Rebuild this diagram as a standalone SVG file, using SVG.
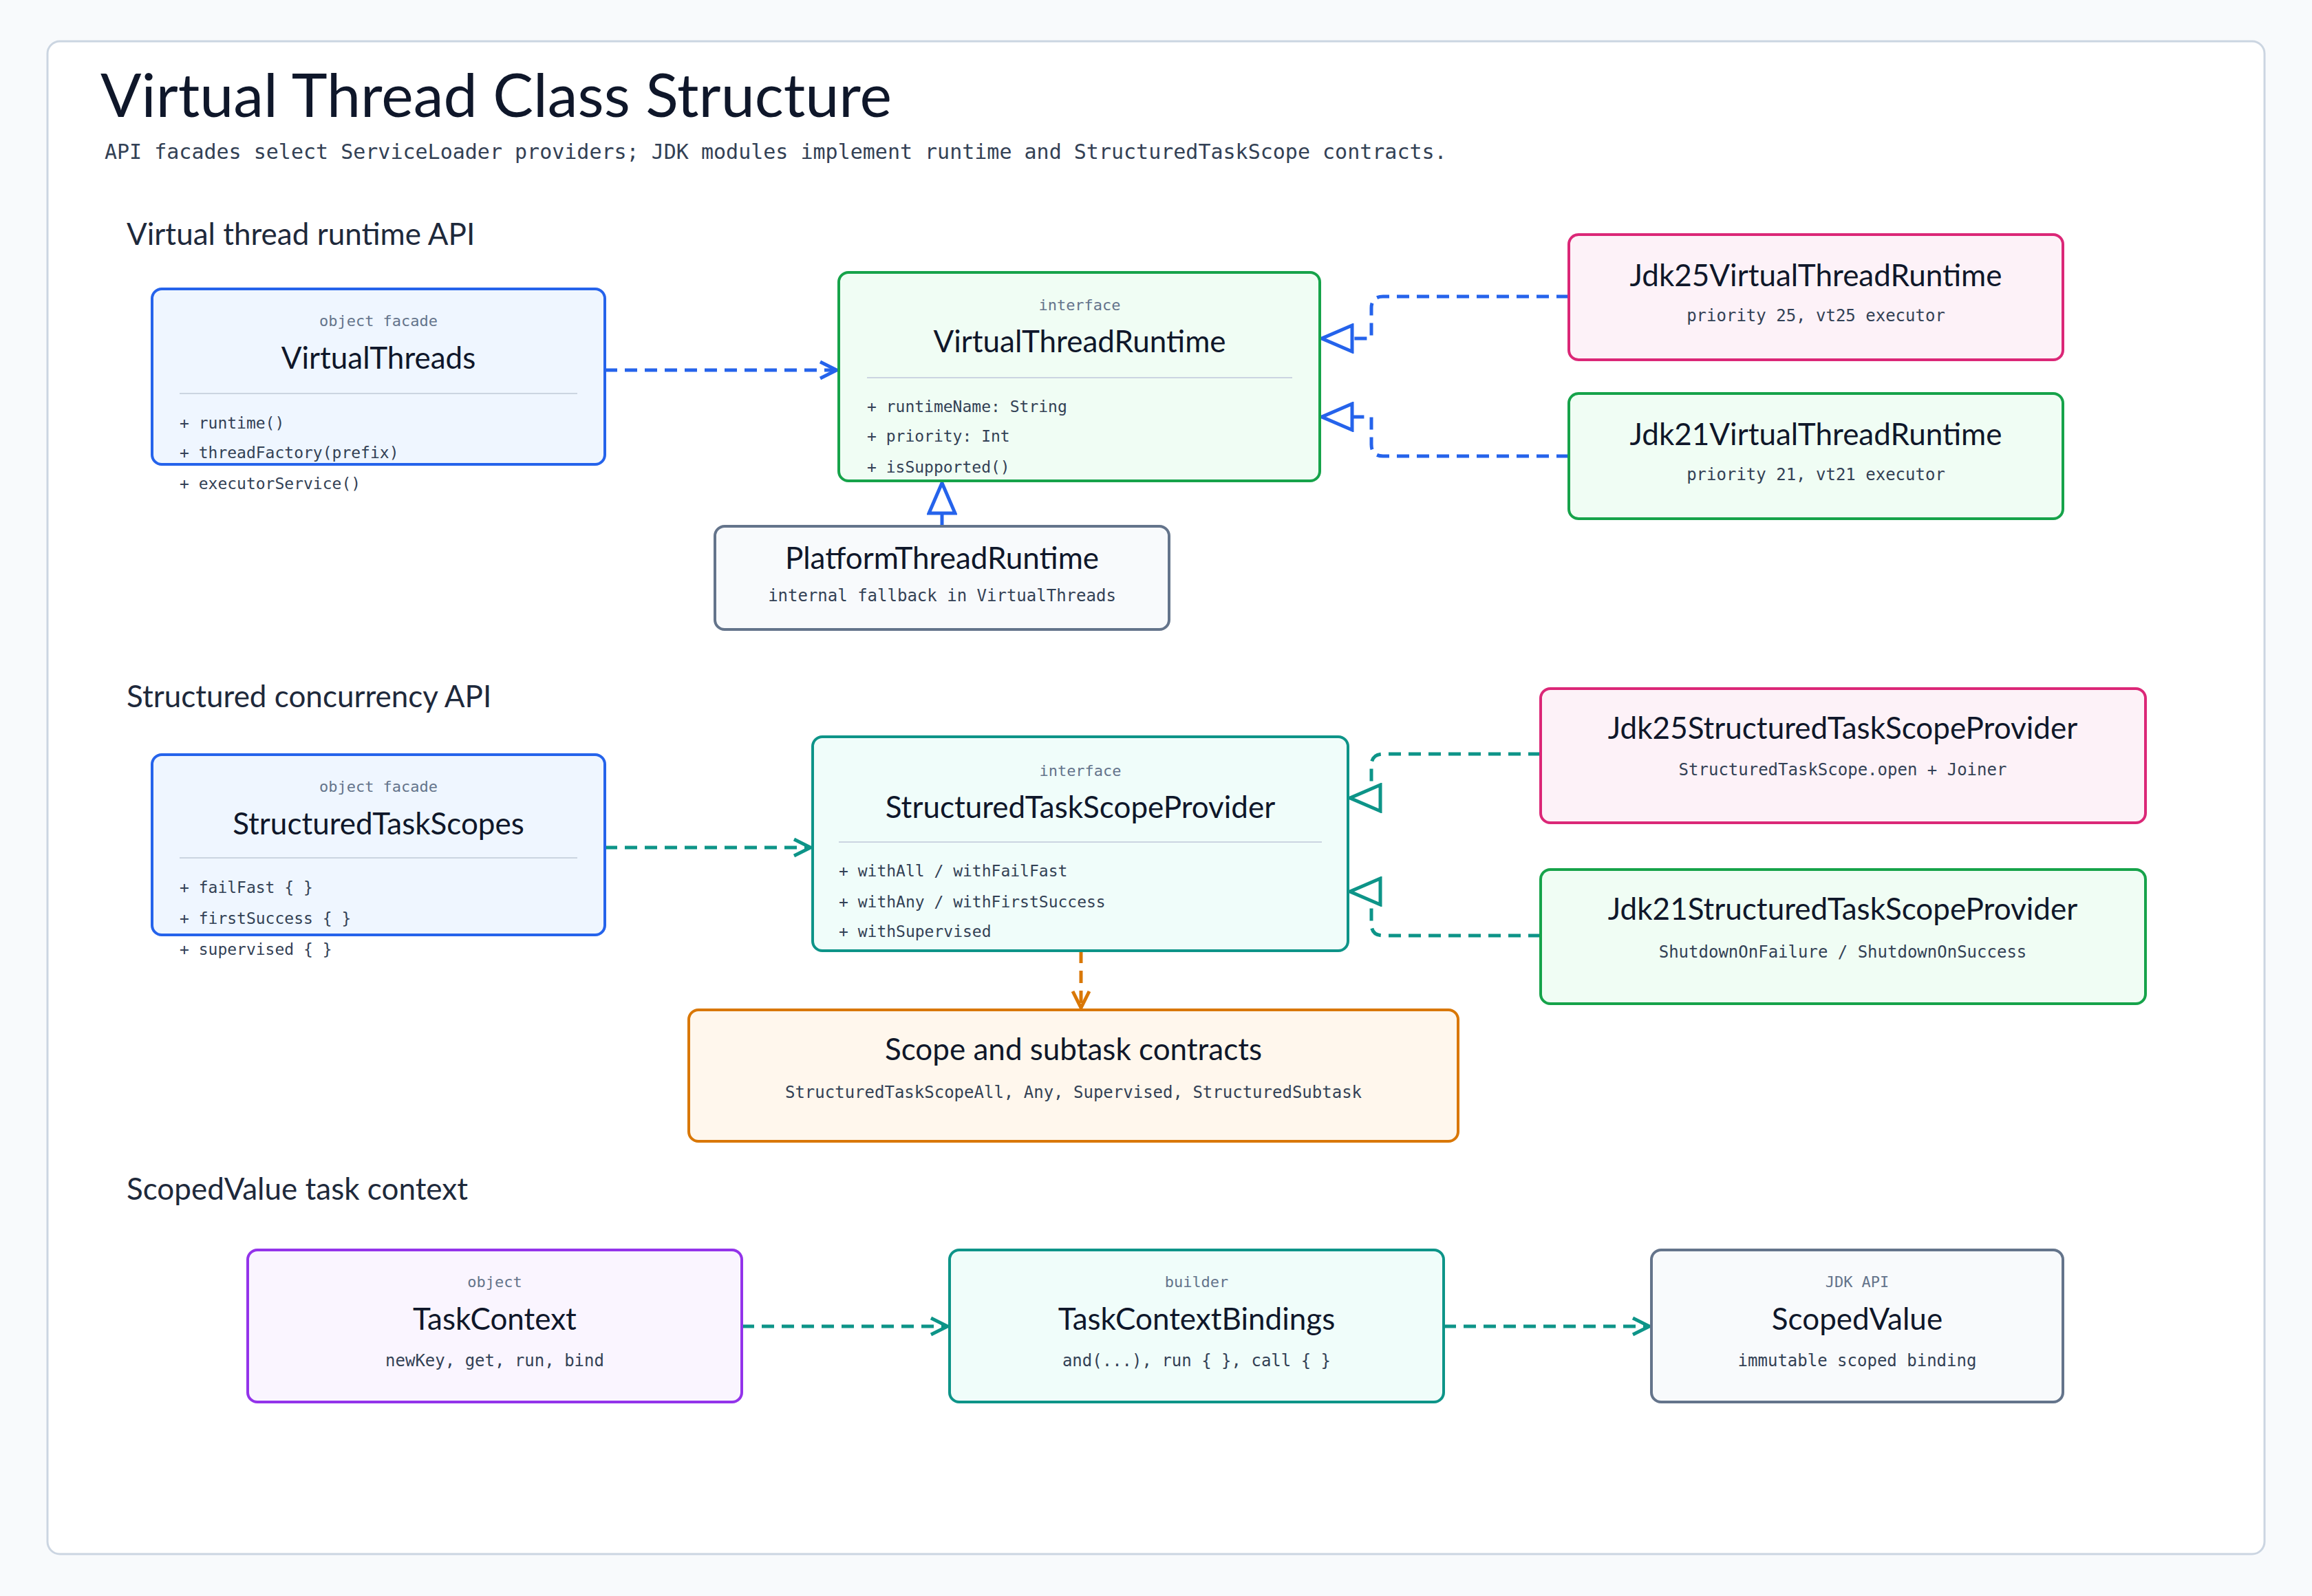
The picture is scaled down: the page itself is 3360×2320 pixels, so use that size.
<svg xmlns="http://www.w3.org/2000/svg" width="3360" height="2320" viewBox="0 0 3360 2320">
<defs>
<style>
.h{font-family:"Lato","Open Sans",sans-serif;fill:#0f172a}
.m{font-family:"DejaVu Sans Mono","Liberation Mono",monospace;fill:#334155}
.st{font-family:"DejaVu Sans Mono","Liberation Mono",monospace;fill:#64748b;font-size:22px}
.nm{font-size:44px;text-anchor:middle}
.sub{font-size:24px;text-anchor:middle}
.mt{font-size:23px}
.sec{font-size:44px;fill:#1e293b}
.div{stroke:#cbd5e1;stroke-width:2}
.c{fill:none;stroke-width:5;stroke-dasharray:18 11}
</style>
<marker id="ob" viewBox="0 0 30 30" refX="27" refY="15" markerWidth="30" markerHeight="30" markerUnits="userSpaceOnUse" orient="auto"><path d="M3,3 L27,15 L3,27" fill="none" stroke="#2563eb" stroke-width="5"/></marker>
<marker id="ot" viewBox="0 0 30 30" refX="27" refY="15" markerWidth="30" markerHeight="30" markerUnits="userSpaceOnUse" orient="auto"><path d="M3,3 L27,15 L3,27" fill="none" stroke="#0d9488" stroke-width="5"/></marker>
<marker id="oo" viewBox="0 0 30 30" refX="27" refY="15" markerWidth="30" markerHeight="30" markerUnits="userSpaceOnUse" orient="auto"><path d="M3,3 L27,15 L3,27" fill="none" stroke="#d97706" stroke-width="5"/></marker>
<marker id="tb" viewBox="0 0 50 44" refX="47" refY="22" markerWidth="50" markerHeight="44" markerUnits="userSpaceOnUse" orient="auto"><path d="M3,3 L47,22 L3,41 Z" fill="#ffffff" stroke="#2563eb" stroke-width="5"/></marker>
<marker id="tt" viewBox="0 0 50 44" refX="47" refY="22" markerWidth="50" markerHeight="44" markerUnits="userSpaceOnUse" orient="auto"><path d="M3,3 L47,22 L3,41 Z" fill="#ffffff" stroke="#0d9488" stroke-width="5"/></marker>
</defs>
<rect width="3360" height="2320" fill="#f8fafc"/>
<rect x="69" y="60" width="3222" height="2199" rx="18" fill="#ffffff" stroke="#cbd5e1" stroke-width="3"/>
<text class="h" x="146" y="170" font-size="88">Virtual Thread Class Structure</text>
<text class="m" x="152" y="231" font-size="30">API facades select ServiceLoader providers; JDK modules implement runtime and StructuredTaskScope contracts.</text>
<text class="h sec" x="184" y="356">Virtual thread runtime API</text>
<text class="h sec" x="184" y="1028">Structured concurrency API</text>
<text class="h sec" x="184" y="1744">ScopedValue task context</text>

<g id="connectors">
<path class="c" stroke="#2563eb" d="M879,538 H1216" marker-end="url(#ob)"/>
<path class="c" stroke="#2563eb" d="M2280,431 H2010 Q1993,431 1993,448 V492 H1921" marker-end="url(#tb)"/>
<path class="c" stroke="#2563eb" d="M2280,663 H2010 Q1993,663 1993,646 V606 H1921" marker-end="url(#tb)"/>
<path fill="none" stroke="#2563eb" stroke-width="5" d="M1369,765 V702" marker-end="url(#tb)"/>
<path class="c" stroke="#0d9488" d="M879,1232 H1178" marker-end="url(#ot)"/>
<path class="c" stroke="#0d9488" d="M2239,1096 H2010 Q1993,1096 1993,1113 V1160 H1962" marker-end="url(#tt)"/>
<path class="c" stroke="#0d9488" d="M2239,1360 H2010 Q1993,1360 1993,1343 V1296 H1962" marker-end="url(#tt)"/>
<path class="c" stroke="#d97706" d="M1571,1382 V1465" marker-end="url(#oo)"/>
<path class="c" stroke="#0d9488" d="M1078,1928 H1377" marker-end="url(#ot)"/>
<path class="c" stroke="#0d9488" d="M2098,1928 H2397" marker-end="url(#ot)"/>
</g>

<g id="VirtualThreads">
<rect x="221" y="420" width="658" height="255" rx="14" fill="#eff6ff" stroke="#2563eb" stroke-width="4"/>
<text class="st" x="550" y="474" text-anchor="middle">object facade</text>
<text class="h nm" x="550" y="536">VirtualThreads</text>
<line class="div" x1="261" y1="572" x2="839" y2="572"/>
<text class="m mt" x="261" y="623">+ runtime()</text>
<text class="m mt" x="261" y="666">+ threadFactory(prefix)</text>
<text class="m mt" x="261" y="711">+ executorService()</text>
</g>
<g id="VirtualThreadRuntime">
<rect x="1219" y="396" width="699" height="303" rx="14" fill="#f0fdf4" stroke="#16a34a" stroke-width="4"/>
<text class="st" x="1569" y="451" text-anchor="middle">interface</text>
<text class="h nm" x="1569" y="512">VirtualThreadRuntime</text>
<line class="div" x1="1260" y1="549" x2="1878" y2="549"/>
<text class="m mt" x="1260" y="599">+ runtimeName: String</text>
<text class="m mt" x="1260" y="642">+ priority: Int</text>
<text class="m mt" x="1260" y="687">+ isSupported()</text>
</g>
<g id="Jdk25VirtualThreadRuntime">
<rect x="2280" y="341" width="718" height="182" rx="14" fill="#fdf2f8" stroke="#db2777" stroke-width="4"/>
<text class="h nm" x="2639" y="416">Jdk25VirtualThreadRuntime</text>
<text class="m sub" x="2639" y="467">priority 25, vt25 executor</text>
</g>
<g id="Jdk21VirtualThreadRuntime">
<rect x="2280" y="572" width="718" height="182" rx="14" fill="#f0fdf4" stroke="#16a34a" stroke-width="4"/>
<text class="h nm" x="2639" y="647">Jdk21VirtualThreadRuntime</text>
<text class="m sub" x="2639" y="698">priority 21, vt21 executor</text>
</g>
<g id="PlatformThreadRuntime">
<rect x="1039" y="765" width="660" height="150" rx="14" fill="#f8fafc" stroke="#64748b" stroke-width="4"/>
<text class="h nm" x="1369" y="827">PlatformThreadRuntime</text>
<text class="m sub" x="1369" y="874">internal fallback in VirtualThreads</text>
</g>
<g id="StructuredTaskScopes">
<rect x="221" y="1097" width="658" height="262" rx="14" fill="#eff6ff" stroke="#2563eb" stroke-width="4"/>
<text class="st" x="550" y="1151" text-anchor="middle">object facade</text>
<text class="h nm" x="550" y="1213">StructuredTaskScopes</text>
<line class="div" x1="261" y1="1247" x2="839" y2="1247"/>
<text class="m mt" x="261" y="1298">+ failFast { }</text>
<text class="m mt" x="261" y="1343">+ firstSuccess { }</text>
<text class="m mt" x="261" y="1388">+ supervised { }</text>
</g>
<g id="StructuredTaskScopeProvider">
<rect x="1181" y="1071" width="778" height="311" rx="14" fill="#f0fdfa" stroke="#0d9488" stroke-width="4"/>
<text class="st" x="1570" y="1128" text-anchor="middle">interface</text>
<text class="h nm" x="1570" y="1189">StructuredTaskScopeProvider</text>
<line class="div" x1="1219" y1="1224" x2="1921" y2="1224"/>
<text class="m mt" x="1219" y="1274">+ withAll / withFailFast</text>
<text class="m mt" x="1219" y="1319">+ withAny / withFirstSuccess</text>
<text class="m mt" x="1219" y="1362">+ withSupervised</text>
</g>
<g id="Jdk25StructuredTaskScopeProvider">
<rect x="2239" y="1001" width="879" height="195" rx="14" fill="#fdf2f8" stroke="#db2777" stroke-width="4"/>
<text class="h nm" x="2678" y="1074">Jdk25StructuredTaskScopeProvider</text>
<text class="m sub" x="2678" y="1127">StructuredTaskScope.open + Joiner</text>
</g>
<g id="Jdk21StructuredTaskScopeProvider">
<rect x="2239" y="1264" width="879" height="195" rx="14" fill="#f0fdf4" stroke="#16a34a" stroke-width="4"/>
<text class="h nm" x="2678" y="1337">Jdk21StructuredTaskScopeProvider</text>
<text class="m sub" x="2678" y="1392">ShutdownOnFailure / ShutdownOnSuccess</text>
</g>
<g id="ScopeContracts">
<rect x="1001" y="1468" width="1118" height="191" rx="14" fill="#fff7ed" stroke="#d97706" stroke-width="4"/>
<text class="h nm" x="1560" y="1541">Scope and subtask contracts</text>
<text class="m sub" x="1560" y="1596">StructuredTaskScopeAll, Any, Supervised, StructuredSubtask</text>
</g>
<g id="TaskContext">
<rect x="360" y="1817" width="718" height="221" rx="14" fill="#faf5ff" stroke="#9333ea" stroke-width="4"/>
<text class="st" x="719" y="1871" text-anchor="middle">object</text>
<text class="h nm" x="719" y="1933">TaskContext</text>
<text class="m sub" x="719" y="1986">newKey, get, run, bind</text>
</g>
<g id="TaskContextBindings">
<rect x="1380" y="1817" width="718" height="221" rx="14" fill="#f0fdfa" stroke="#0d9488" stroke-width="4"/>
<text class="st" x="1739" y="1871" text-anchor="middle">builder</text>
<text class="h nm" x="1739" y="1933">TaskContextBindings</text>
<text class="m sub" x="1739" y="1986">and(...), run { }, call { }</text>
</g>
<g id="ScopedValue">
<rect x="2400" y="1817" width="598" height="221" rx="14" fill="#f8fafc" stroke="#64748b" stroke-width="4"/>
<text class="st" x="2699" y="1871" text-anchor="middle">JDK API</text>
<text class="h nm" x="2699" y="1933">ScopedValue</text>
<text class="m sub" x="2699" y="1986">immutable scoped binding</text>
</g>
</svg>
